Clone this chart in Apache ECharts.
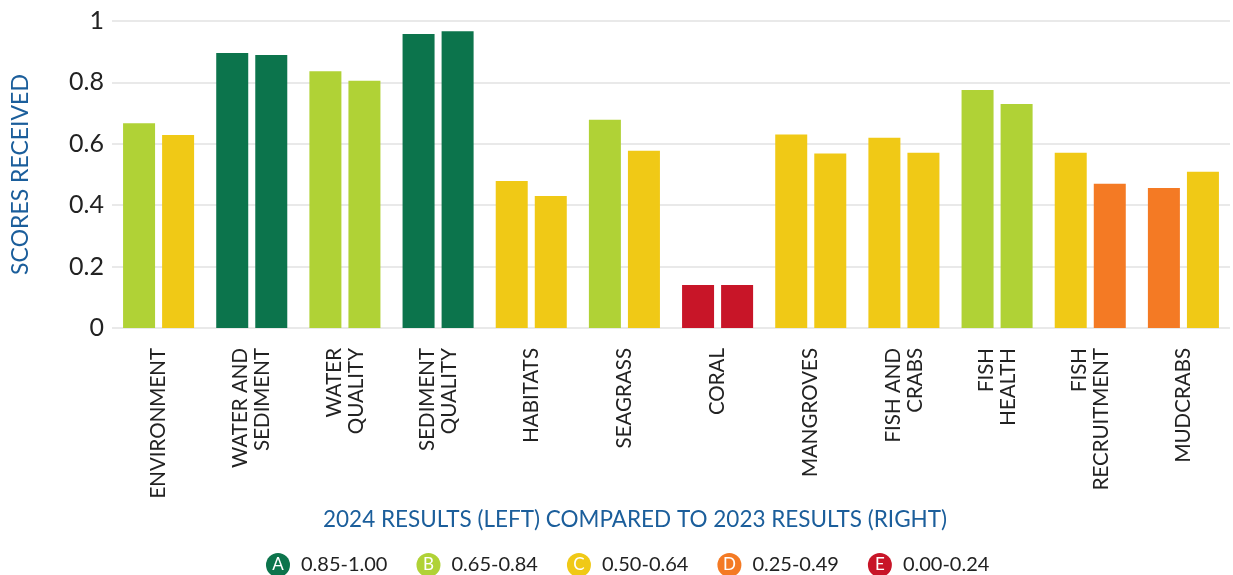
<!DOCTYPE html>
<html>
<head>
<meta charset="utf-8">
<script src="https://cdn.jsdelivr.net/npm/echarts@6/dist/echarts.min.js"></script>
<style>
  html, body { margin: 0; padding: 0; background: #fff; }
  #chart { width: 1233px; height: 575px; }
</style>
</head>
<body>
<div id="chart"></div>
<script>
// カテゴリ (改行入り)
var categories = [
    "ENVIRONMENT", "WATER AND\nSEDIMENT", "WATER\nQUALITY", "SEDIMENT\nQUALITY",
    "HABITATS", "SEAGRASS", "CORAL", "MANGROVES", "FISH AND\nCRABS",
    "FISH\nHEALTH", "FISH\nRECRUITMENT", "MUDCRABS"
];
var scores2024 = [0.667, 0.896, 0.836, 0.958, 0.479, 0.678, 0.14, 0.63, 0.62, 0.775, 0.571, 0.456];
var scores2023 = [0.629, 0.889, 0.805, 0.967, 0.43, 0.577, 0.14, 0.568, 0.571, 0.73, 0.47, 0.509];
var grades2024 = ["B", "A", "B", "A", "C", "B", "E", "C", "C", "B", "C", "D"];
var grades2023 = ["C", "A", "B", "A", "C", "C", "E", "C", "C", "B", "D", "C"];
var gradeNames = ["A", "B", "C", "D", "E"];
var gradeRanges = ["0.85-1.00", "0.65-0.84", "0.50-0.64", "0.25-0.49", "0.00-0.24"];
var yTicks = [0, 0.2, 0.4, 0.6, 0.8, 1];

var gradeColors = {
    A: "#0c744c",
    B: "#b0d236",
    C: "#f0c916",
    D: "#f47a24",
    E: "#c81528"
};
var font = "Lato";

function barData(values, grades) {
    return values.map(function(v, i) {
        return { value: v, itemStyle: { color: gradeColors[grades[i]] } };
    });
}

// 凡例用リッチテキスト
var rich = {
    t: { fontSize: 20, color: "#222", fontFamily: font, padding: [0, 0, 0, 11] }
};
gradeNames.forEach(function(g) {
    rich[g] = {
        width: 24, height: 24, lineHeight: 24, borderRadius: 12,
        backgroundColor: gradeColors[g], color: "#fff", align: "center",
        fontSize: 17, fontFamily: font
    };
});

var series = [
    { name: "2024", type: "bar", barWidth: 32, barGap: "22%", data: barData(scores2024, grades2024) },
    { name: "2023", type: "bar", barWidth: 32, data: barData(scores2023, grades2023) }
];
gradeNames.forEach(function(g) {
    series.push({ name: g, type: "scatter", data: [], itemStyle: { color: gradeColors[g] } });
});

var chart = echarts.init(document.getElementById("chart"));
chart.setOption({
    animation: false,
    textStyle: { fontFamily: font },
    title: {
        text: "2024 RESULTS (LEFT) COMPARED TO 2023 RESULTS (RIGHT)",
        left: 323,
        top: 508,
        padding: 0,
        textStyle: { fontSize: 22.5, fontWeight: "normal", color: "#1b5e9b", fontFamily: font }
    },
    legend: {
        data: gradeNames,
        left: 261,
        top: 553,
        padding: 0,
        icon: "none",
        itemWidth: 0,
        itemHeight: 24,
        itemGap: 24,
        selectedMode: false,
        formatter: function(name) {
            return "{" + name + "|" + name + "}{t|" + gradeRanges[gradeNames.indexOf(name)] + "}";
        },
        textStyle: { rich: rich }
    },
    grid: { left: 112, right: 3, top: 21, bottom: 247, containLabel: false },
    xAxis: {
        type: "category",
        data: categories,
        axisLine: { show: false },
        axisTick: { show: false },
        axisLabel: {
            interval: 0,
            rotate: 90,
            margin: 20,
            fontSize: 20.5,
            lineHeight: 22,
            color: "#222",
            fontFamily: font
        }
    },
    yAxis: {
        type: "value",
        min: yTicks[0],
        max: yTicks[yTicks.length - 1],
        interval: 0.2,
        name: "SCORES RECEIVED",
        nameLocation: "middle",
        nameRotate: 90,
        nameGap: 80,
        nameTextStyle: { fontSize: 23, color: "#1b5e9b", fontFamily: font },
        axisLine: { show: false },
        axisTick: { show: false },
        axisLabel: { fontSize: 25, color: "#222", margin: 8, fontFamily: font },
        splitLine: { lineStyle: { color: "#e9e9e9", width: 2 } }
    },
    series: series
});
</script>
</body>
</html>
